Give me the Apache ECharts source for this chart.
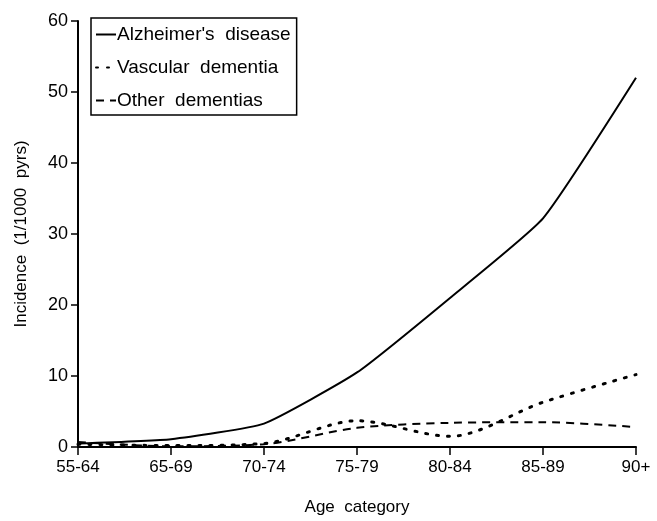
<!DOCTYPE html>
<html>
<head>
<meta charset="utf-8">
<script src="https://cdn.jsdelivr.net/npm/echarts@6/dist/echarts.min.js"></script>
<style>html,body{margin:0;padding:0;background:#fff}#c{width:657px;height:521px}</style>
</head>
<body>
<div id="c"></div>
<script>
var categories = ['55-64','65-69','70-74','75-79','80-84','85-89','90+'];
var alzheimer = [0.5, 1.1, 3.3, 10.5, 21.0, 32.2, 52.0];
var vascular = [0.4, 0.2, 0.5, 3.7, 1.5, 6.3, 10.2];
var other = [0.7, 0.1, 0.4, 2.7, 3.4, 3.5, 2.8];
var seriesNames = ["Alzheimer's  disease", 'Vascular  dementia', 'Other  dementias'];

var font = 'Liberation Sans, Arial, sans-serif';
var chart = echarts.init(document.getElementById('c'));
chart.setOption({
  animation: false,
  backgroundColor: '#fff',
  grid: {left: 78, right: 21, top: 21, bottom: 71, containLabel: false},
  legend: {
    orient: 'vertical', left: 91, top: 18,
    padding: [7, 6, 5, 4],
    borderColor: '#000', borderWidth: 1.5,
    itemWidth: 20, itemHeight: 14, itemGap: 14,
    itemStyle: {opacity: 0},
    textStyle: {fontFamily: font, fontSize: 19, color: '#000', padding: [0, 0, 0, -4]},
    data: seriesNames
  },
  xAxis: {
    type: 'category', data: categories, boundaryGap: false,
    name: 'Age  category', nameLocation: 'middle', nameGap: 52,
    nameTextStyle: {fontFamily: font, fontSize: 17, color: '#000'},
    axisLine: {lineStyle: {color: '#000', width: 2}},
    axisTick: {alignWithLabel: true, length: 8, lineStyle: {color: '#000', width: 1.5}},
    axisLabel: {fontFamily: font, fontSize: 17, color: '#000', margin: 12},
    splitLine: {show: false}
  },
  yAxis: {
    type: 'value', min: 0, max: 60, interval: 10,
    name: 'Incidence  (1/1000  pyrs)', nameLocation: 'middle', nameGap: 48,
    nameTextStyle: {fontFamily: font, fontSize: 17, color: '#000'},
    axisLine: {show: true, lineStyle: {color: '#000', width: 2}},
    axisTick: {show: true, length: 7, lineStyle: {color: '#000', width: 1.5}},
    axisLabel: {fontFamily: font, fontSize: 18, color: '#000', margin: 10},
    splitLine: {show: false}
  },
  series: [
    {name: seriesNames[0], type: 'line', data: alzheimer, smooth: 0.15, symbol: 'none',
     lineStyle: {color: '#000', width: 2}, itemStyle: {color: '#000'}},
    {name: seriesNames[1], type: 'line', data: vascular, smooth: 0.3, symbol: 'none',
     lineStyle: {color: '#000', width: 3, type: [2, 9], cap: 'round'}, itemStyle: {color: '#000'}},
    {name: seriesNames[2], type: 'line', data: other, smooth: 0.3, symbol: 'none',
     lineStyle: {color: '#000', width: 2, type: [8, 6]}, itemStyle: {color: '#000'}}
  ]
});
</script>
</body>
</html>
